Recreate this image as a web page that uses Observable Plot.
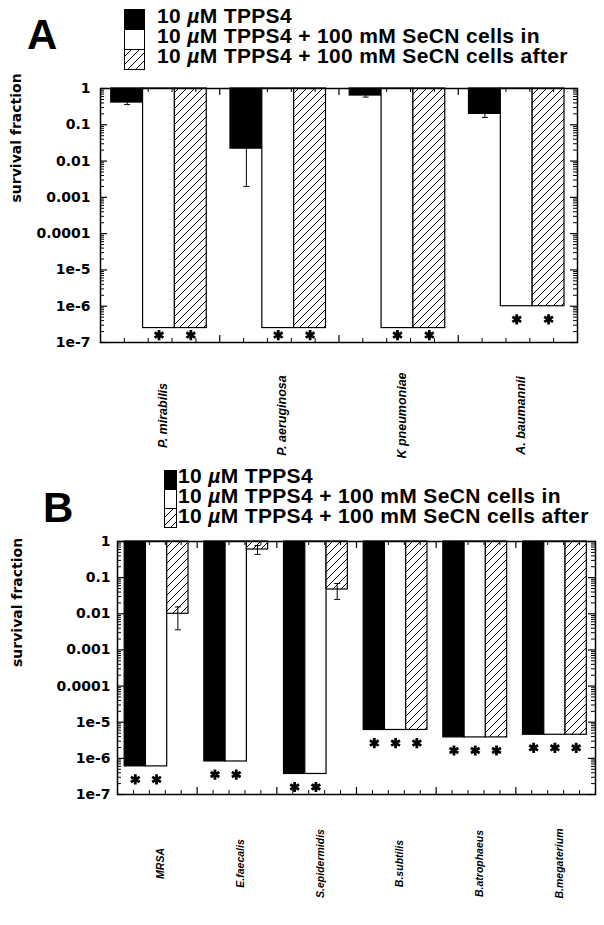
<!DOCTYPE html>
<html><head><meta charset="utf-8">
<script src="https://cdn.jsdelivr.net/npm/d3@7"></script>
<script src="https://cdn.jsdelivr.net/npm/@observablehq/plot@0.6"></script>
<style>
body{margin:0;background:#fff;}
#wrap{position:relative;width:604px;height:925px;overflow:hidden;background:#fff;}
.panel{position:absolute;left:0;}
.letter{position:absolute;font:bold 42px "Liberation Sans",Arial,sans-serif;line-height:42px;}
.legend{position:absolute;font:bold 21px "Liberation Sans",Arial,sans-serif;white-space:nowrap;letter-spacing:0.35px;}
.legend div{height:20px;line-height:20px;}
.legend i{font-style:italic;font-weight:bold;}
.sw{position:absolute;}
</style></head>
<body>
<svg width="0" height="0" style="position:absolute">
  <defs>
    <pattern id="hatch" patternUnits="userSpaceOnUse" width="8" height="8">
      <rect width="8" height="8" fill="white"/>
      <path d="M0,8 L8,0 M-2,2 L2,-2 M6,10 L10,6" stroke="black" stroke-width="1"/>
    </pattern>
  </defs>
</svg>
<div id="wrap"></div>
<script>
// ---------- data ----------
const seriesNames = ["10 µM TPPS4", "10 µM TPPS4 + 100 mM SeCN cells in", "10 µM TPPS4 + 100 mM SeCN cells after"];

const speciesA = ["P. mirabilis", "P. aeruginosa", "K pneumoniae", "A. baumannii"];
const tppsA      = [0.41, 0.022, 0.64, 0.2];
const tppsLoA    = [0.36, 0.002, 0.58, 0.16];
const tppsHiA    = [0.46, 0.04, 0.70, 0.24];
const cellsInA   = [2.5e-7, 2.5e-7, 2.5e-7, 1e-6];
const cellsAfterA= [2.5e-7, 2.5e-7, 2.5e-7, 1e-6];

const speciesB = ["MRSA", "E.faecalis", "S.epidermidis", "B.subtilis", "B.atrophaeus", "B.megaterium"];
const tppsB      = [6e-7, 8.2e-7, 3.7e-7, 6.1e-6, 3.8e-6, 4.5e-6];
const cellsInB   = [6e-7, 8.2e-7, 3.7e-7, 6.1e-6, 3.8e-6, 4.5e-6];
const cellsAfterB= [0.01, 0.6, 0.047, 6.1e-6, 3.8e-6, 4.5e-6];
const afterLoB   = [0.0036, 0.44, 0.025, null, null, null];
const afterHiB   = [0.0155, 0.77, 0.069, null, null, null];

const yTicks = [1, 0.1, 0.01, 0.001, 0.0001, 1e-5, 1e-6, 1e-7];
const yTickLabels = ["1", "0.1", "0.01", "0.001", "0.0001", "1e-5", "1e-6", "1e-7"];
const yLabel = "survival fraction";

// ---------- helpers ----------
const wrap = document.getElementById("wrap");
const none = n => Array(n).fill(null);
const fills = ["black", "white", "url(#hatch)"];
const labelMap = new Map(yTicks.map((t, i) => [t, yTickLabels[i]]));
const yMinor = [];
for (let k = -7; k <= -1; k++) for (let m = 2; m <= 9; m++) yMinor.push(m * Math.pow(10, k));

function addLetter(t, left, top) {
  const d = document.createElement("div");
  d.className = "letter"; d.textContent = t;
  d.style.left = left + "px"; d.style.top = top + "px";
  wrap.appendChild(d);
}
function addLegend(left, top, swLeft, swTop, swW, swH) {
  const d = document.createElement("div");
  d.className = "legend";
  d.style.left = left + "px"; d.style.top = top + "px";
  seriesNames.forEach(s => {
    const line = document.createElement("div");
    line.innerHTML = s.replace("µ", "<i>µ</i>");
    d.appendChild(line);
  });
  wrap.appendChild(d);
  const ns = "http://www.w3.org/2000/svg";
  const svg = document.createElementNS(ns, "svg");
  svg.setAttribute("class", "sw");
  svg.setAttribute("width", swW + 1); svg.setAttribute("height", swH * 3 + 1);
  svg.style.left = swLeft + "px"; svg.style.top = swTop + "px";
  fills.forEach((f, i) => {
    const r = document.createElementNS(ns, "rect");
    r.setAttribute("x", 0.5); r.setAttribute("y", 0.5 + i * swH);
    r.setAttribute("width", swW); r.setAttribute("height", swH);
    r.setAttribute("fill", f); r.setAttribute("stroke", "black");
    svg.appendChild(r);
  });
  wrap.appendChild(svg);
}

function panel(cfg) {
  const {species, series, lo, hi, top, width, height, mt, mb, ml, mr,
         tickPad, yLabDx, yLabDy, xLabDy, xLabSize} = cfg;
  const n = species.length;
  const W = width - ml - mr, H = height - mt - mb;
  const bw = 0.267, off = 0.09;
  const rows = [];
  species.forEach((sp, i) => series.forEach((vals, s) => rows.push({
    i, s, v: vals[i], lo: lo[s][i], hi: hi[s][i],
    x1: i + off + s * bw, x2: i + off + (s + 1) * bw, xc: i + off + (s + 0.5) * bw
  })));
  const errs = rows.filter(d => d.lo != null);
  const stars = rows.filter(d => d.v < 1e-4);
  const xMinor = d3.range(1, n * 5).map(k => k / 5).filter(x => Math.abs(x - Math.round(x)) > 1e-9);
  const xMajor = d3.range(1, n);
  const capSymbol = {draw(ctx, size) { const h = Math.sqrt(size / Math.PI); ctx.moveTo(-h, 0); ctx.lineTo(h, 0); }};

  const chart = Plot.plot({
    width, height, marginTop: mt, marginBottom: mb, marginLeft: ml, marginRight: mr,
    style: {fontFamily: "DejaVu Sans, sans-serif", background: "white", overflow: "visible"},
    x: {domain: [0, n], axis: null},
    y: {type: "log", domain: [1e-7, 1], axis: null},
    marks: [
      Plot.rect(rows, {x1: "x1", x2: "x2", y1: () => 1, y2: "v", fill: d => fills[d.s], stroke: "black", strokeWidth: 1.2}),
      Plot.ruleX(errs, {x: "xc", y1: "lo", y2: "hi", stroke: "black", strokeWidth: 1}),
      Plot.dot(errs, {x: "xc", y: "lo", symbol: capSymbol, r: 3, stroke: "black", strokeWidth: 1}),
      Plot.dot(errs, {x: "xc", y: "hi", symbol: capSymbol, r: 3, stroke: "black", strokeWidth: 1}),
      Plot.frame({stroke: "black", strokeWidth: 1.5}),
      // y ticks, left and right, pointing inward
      Plot.tickY(yTicks, {y: d => d, insetRight: W - 7, stroke: "black", strokeWidth: 1.2}),
      Plot.tickY(yMinor, {y: d => d, insetRight: W - 4, stroke: "black", strokeWidth: 1}),
      Plot.tickY(yTicks, {y: d => d, insetLeft: W - 7, stroke: "black", strokeWidth: 1.2}),
      Plot.tickY(yMinor, {y: d => d, insetLeft: W - 4, stroke: "black", strokeWidth: 1}),
      // x ticks bottom and top
      Plot.tickX(xMajor, {x: d => d, insetTop: H - 7, stroke: "black", strokeWidth: 1.2}),
      Plot.tickX(xMinor, {x: d => d, insetTop: H - 4, stroke: "black", strokeWidth: 1}),
      Plot.tickX(xMajor, {x: d => d, insetBottom: H - 7, stroke: "black", strokeWidth: 1.2}),
      Plot.tickX(xMinor, {x: d => d, insetBottom: H - 4, stroke: "black", strokeWidth: 1}),
      // significance asterisks
      Plot.dot(stars, {x: "xc", y: d => Math.max(d.v / 2.3, 1.6e-7), symbol: "asterisk", r: 4.8, stroke: "black", strokeWidth: 2.8}),
      // y axis labels
      Plot.axisY(yTicks, {anchor: "left", tickSize: 0, tickPadding: tickPad, tickFormat: d => labelMap.get(d),
                          fontSize: 14, fontWeight: "bold", fill: "black", label: null}),
      Plot.text([yLabel], {frameAnchor: "left", rotate: -90, dx: yLabDx, dy: yLabDy, fontSize: 14, fontWeight: "bold", fill: "black"}),
      // species labels
      Plot.text(species, {x: (d, i) => i + 0.5, frameAnchor: "bottom", text: d => d, rotate: -90, dx: 7, dy: xLabDy,
                          fontSize: xLabSize, fontStyle: "italic", fontWeight: "bold",
                          fontFamily: "Liberation Sans, Arial, sans-serif", fill: "black"})
    ]
  });
  chart.classList.add("panel");
  chart.style.top = top + "px";
  wrap.appendChild(chart);
}

// ---------- panel A ----------
addLetter("A", 27, 14);
addLegend(157, 6, 124, 9, 20, 20);
panel({
  species: speciesA,
  series: [tppsA, cellsInA, cellsAfterA],
  lo: [tppsLoA, none(4), none(4)],
  hi: [tppsHiA, none(4), none(4)],
  top: 75, width: 604, height: 380, mt: 13, mb: 113, ml: 100, mr: 27,
  tickPad: 10, yLabDx: -84, yLabDy: -13, xLabDy: 73, xLabSize: 12.5
});

// ---------- panel B ----------
addLetter("B", 43, 487);
addLegend(178, 466, 164, 470, 12, 19);
panel({
  species: speciesB,
  series: [tppsB, cellsInB, cellsAfterB],
  lo: [none(6), none(6), afterLoB],
  hi: [none(6), none(6), afterHiB],
  top: 530, width: 604, height: 395, mt: 11, mb: 131, ml: 117, mr: 9,
  tickPad: 7, yLabDx: -100, yLabDy: -1, xLabDy: 69, xLabSize: 10.5
});
</script>
</body></html>
